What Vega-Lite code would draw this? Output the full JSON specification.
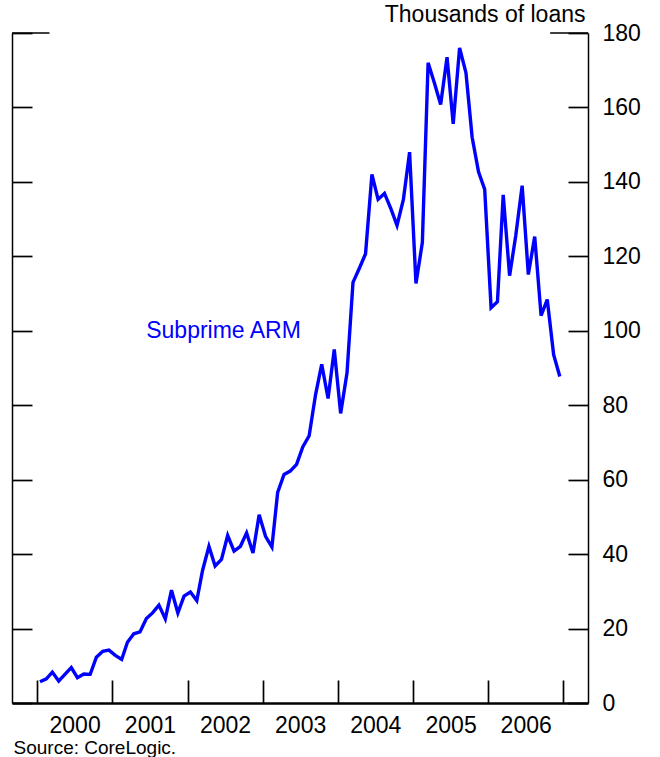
{
  "$schema": "https://vega.github.io/schema/vega-lite/v6.json",
  "width": 576,
  "height": 670,
  "autosize": {"type": "none"},
  "padding": {"left": 12, "top": 33, "right": 72, "bottom": 54},
  "config": {
    "view": {"stroke": null},
    "font": "Liberation Sans",
    "axis": {"grid": false, "domain": true, "labelFont": "Liberation Sans", "titleFont": "Liberation Sans", "domainColor": "black", "tickColor": "black", "labelColor": "black", "titleColor": "black"}
  },
  "datasets": {
    "loans": [
      {"date": "2000/01/15", "value": 5.7}, {"date": "2000/02/15", "value": 6.5}, {"date": "2000/03/15", "value": 8.3},
      {"date": "2000/04/15", "value": 5.9}, {"date": "2000/05/15", "value": 7.7}, {"date": "2000/06/15", "value": 9.5},
      {"date": "2000/07/15", "value": 6.8}, {"date": "2000/08/15", "value": 7.8}, {"date": "2000/09/15", "value": 7.7},
      {"date": "2000/10/15", "value": 12.3}, {"date": "2000/11/15", "value": 13.9}, {"date": "2000/12/15", "value": 14.2},
      {"date": "2001/01/15", "value": 12.8}, {"date": "2001/02/15", "value": 11.7}, {"date": "2001/03/15", "value": 16.3},
      {"date": "2001/04/15", "value": 18.6}, {"date": "2001/05/15", "value": 19.1}, {"date": "2001/06/15", "value": 22.7},
      {"date": "2001/07/15", "value": 24.2}, {"date": "2001/08/15", "value": 26.3}, {"date": "2001/09/15", "value": 22.6},
      {"date": "2001/10/15", "value": 30.3}, {"date": "2001/11/15", "value": 24.2}, {"date": "2001/12/15", "value": 28.7},
      {"date": "2002/01/15", "value": 29.8}, {"date": "2002/02/15", "value": 27.5}, {"date": "2002/03/15", "value": 35.6},
      {"date": "2002/04/15", "value": 42.1}, {"date": "2002/05/15", "value": 36.8}, {"date": "2002/06/15", "value": 38.6},
      {"date": "2002/07/15", "value": 45.0}, {"date": "2002/08/15", "value": 40.8}, {"date": "2002/09/15", "value": 42.1},
      {"date": "2002/10/15", "value": 45.7}, {"date": "2002/11/15", "value": 40.3}, {"date": "2002/12/15", "value": 50.6},
      {"date": "2003/01/15", "value": 44.8}, {"date": "2003/02/15", "value": 41.9}, {"date": "2003/03/15", "value": 56.6},
      {"date": "2003/04/15", "value": 61.4}, {"date": "2003/05/15", "value": 62.3}, {"date": "2003/06/15", "value": 64.1},
      {"date": "2003/07/15", "value": 68.8}, {"date": "2003/08/15", "value": 71.8}, {"date": "2003/09/15", "value": 82.8},
      {"date": "2003/10/15", "value": 91.0}, {"date": "2003/11/15", "value": 81.8}, {"date": "2003/12/15", "value": 95.0},
      {"date": "2004/01/15", "value": 77.8}, {"date": "2004/02/15", "value": 88.7}, {"date": "2004/03/15", "value": 113.0},
      {"date": "2004/04/15", "value": 116.8}, {"date": "2004/05/15", "value": 120.7}, {"date": "2004/06/15", "value": 142.0},
      {"date": "2004/07/15", "value": 135.3}, {"date": "2004/08/15", "value": 136.9}, {"date": "2004/09/15", "value": 132.8},
      {"date": "2004/10/15", "value": 128.3}, {"date": "2004/11/15", "value": 135.3}, {"date": "2004/12/15", "value": 148.0},
      {"date": "2005/01/15", "value": 112.7}, {"date": "2005/02/15", "value": 123.7}, {"date": "2005/03/15", "value": 172.0},
      {"date": "2005/04/15", "value": 166.5}, {"date": "2005/05/15", "value": 160.8}, {"date": "2005/06/15", "value": 173.5},
      {"date": "2005/07/15", "value": 155.6}, {"date": "2005/08/15", "value": 176.0}, {"date": "2005/09/15", "value": 169.3},
      {"date": "2005/10/15", "value": 152.0}, {"date": "2005/11/15", "value": 142.7}, {"date": "2005/12/15", "value": 138.0},
      {"date": "2006/01/15", "value": 106.2}, {"date": "2006/02/15", "value": 107.8}, {"date": "2006/03/15", "value": 136.5},
      {"date": "2006/04/15", "value": 114.8}, {"date": "2006/05/15", "value": 125.6}, {"date": "2006/06/15", "value": 139.0},
      {"date": "2006/07/15", "value": 115.1}, {"date": "2006/08/15", "value": 125.3}, {"date": "2006/09/15", "value": 104.1},
      {"date": "2006/10/15", "value": 108.4}, {"date": "2006/11/15", "value": 93.6}, {"date": "2006/12/15", "value": 87.7}
    ],
    "labels": [{"date": "2002/06/25", "value": 98.1, "text": "Subprime ARM"}],
    "edges": [
      {"date": "1999/09/01", "date2": "2000/03/01", "value": 180},
      {"date": "2006/10/29", "date2": "2007/05/01", "value": 180}
    ]
  },
  "encoding": {
    "x": {
      "field": "date", "type": "temporal",
      "scale": {"domain": [{"year": 1999, "month": 9, "date": 1}, {"year": 2007, "month": 5, "date": 1}]},
      "axis": {
        "values": [
          {"year": 2000, "month": 1, "date": 1}, {"year": 2001, "month": 1, "date": 1},
          {"year": 2002, "month": 1, "date": 1}, {"year": 2003, "month": 1, "date": 1},
          {"year": 2004, "month": 1, "date": 1}, {"year": 2005, "month": 1, "date": 1},
          {"year": 2006, "month": 1, "date": 1}, {"year": 2007, "month": 1, "date": 1}
        ],
        "domain": true, "domainColor": "black",
        "tickSize": -23, "tickWidth": 1.7, "domainWidth": 2.5,
        "labelOffset": 37.5, "labelPadding": 34, "labelFontSize": 23,
        "labelFlush": false, "labelOverlap": false,
        "labelExpr": "year(datum.value) < 2007 ? timeFormat(datum.value, '%Y') : ''",
        "title": "Source: CoreLogic.", "titleFontSize": 19, "titleFontWeight": "normal",
        "titleAnchor": "start", "titleAlign": "left", "titleBaseline": "alphabetic",
        "titleX": 1, "titleY": 50
      }
    }
  },
  "layer": [
    {
      "data": {"name": "loans"},
      "mark": {"type": "line", "color": "#0000ff", "strokeWidth": 3.4},
      "encoding": {
        "y": {
          "field": "value", "type": "quantitative",
          "scale": {"domain": [0, 180], "nice": false},
          "axis": {
            "orient": "right",
            "values": [0, 20, 40, 60, 80, 100, 120, 140, 160, 180],
            "domain": true, "domainColor": "black",
            "tickSize": -20, "tickWidth": 1.7, "domainWidth": 1.5,
            "labelFontSize": 23, "labelPadding": 34, "labelOverlap": false, "labelFlush": false,
            "title": "Thousands of loans", "titleAngle": 0, "titleAlign": "right", "titleBaseline": "alphabetic",
            "titleX": -3, "titleY": -12, "titleFontSize": 23, "titleFontWeight": "normal"
          }
        }
      }
    },
    {
      "data": {"name": "edges"},
      "mark": {"type": "rule", "color": "black", "strokeWidth": 1.7},
      "encoding": {
        "x2": {"field": "date2"},
        "y": {
          "field": "value", "type": "quantitative",
          "axis": {
            "orient": "left", "labels": false, "title": null,
            "values": [0, 20, 40, 60, 80, 100, 120, 140, 160, 180],
            "domain": true, "domainColor": "black",
            "tickSize": -20, "tickWidth": 1.7, "domainWidth": 1.5
          }
        }
      }
    },
    {
      "data": {"name": "labels"},
      "mark": {"type": "text", "color": "#0000ff", "fontSize": 23, "align": "center", "baseline": "alphabetic", "font": "Liberation Sans"},
      "encoding": {
        "y": {"field": "value", "type": "quantitative", "axis": null},
        "text": {"field": "text"}
      }
    }
  ],
  "resolve": {"axis": {"y": "independent"}}
}
